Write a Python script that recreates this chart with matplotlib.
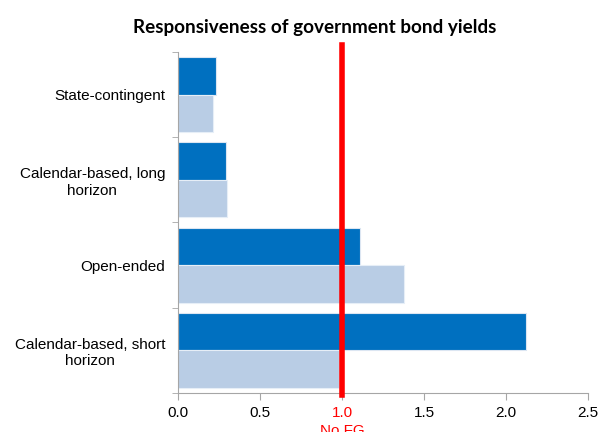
import matplotlib
matplotlib.use("Agg")
import matplotlib.pyplot as plt
import numpy as np

categories = ["State-contingent", "Calendar-based, long\nhorizon",
              "Open-ended", "Calendar-based, short\nhorizon"]
dark_vals = [0.23, 0.29, 1.11, 2.12]
light_vals = [0.21, 0.30, 1.38, 0.98]
xticks = [0.0, 0.5, 1.0, 1.5, 2.0, 2.5]

plt.rcParams['font.family'] = ['Liberation Sans', 'DejaVu Sans']

fig = plt.figure(figsize=(6, 4.32), dpi=100)
ax = fig.add_axes([0.297, 0.090, 0.683, 0.790])

y = np.arange(len(categories))[::-1]
h = 0.44
ax.barh(y + h / 2, dark_vals, height=h, color="#0070C0",
        edgecolor="#DCE6F2", linewidth=0.8)
ax.barh(y - h / 2, light_vals, height=h, color="#B9CDE5",
        edgecolor="#E6EEF7", linewidth=0.8)

ax.set_xlim(0, 2.5)
ax.set_ylim(-0.5, len(categories) - 0.5)
ax.set_xticks(xticks)
ax.set_xticklabels([f"{t:.1f}" for t in xticks], fontsize=11)
ax.get_xticklabels()[2].set_color("red")

ax.set_yticks(y)
ax.set_yticklabels(categories, fontsize=11, ha="right", multialignment="center")
ax.tick_params(axis="y", length=0, pad=9.5)
ax.set_yticks(np.arange(-0.5, len(categories)), minor=True)
ax.tick_params(axis="y", which="minor", length=4, color="#A6A6A6")
ax.tick_params(axis="x", length=5, color="#A6A6A6", pad=4)

for s in ["top", "right"]:
    ax.spines[s].set_visible(False)
for s in ["left", "bottom"]:
    ax.spines[s].set_color("#A6A6A6")

ax.plot([1.0, 1.0], [-0.52, 3.58], color="red", linewidth=4,
        clip_on=False, zorder=5)
ax.text(1.0, -0.09, "No FG", color="red", fontsize=11, ha="center",
        va="top", transform=ax.get_xaxis_transform())

fig.text(0.525, 0.9375, "Responsiveness of government bond yields",
         fontsize=13.6, fontweight="bold", family=["Lato", "DejaVu Sans"],
         ha="center", va="center")

fig.savefig("out.png", dpi=100)
